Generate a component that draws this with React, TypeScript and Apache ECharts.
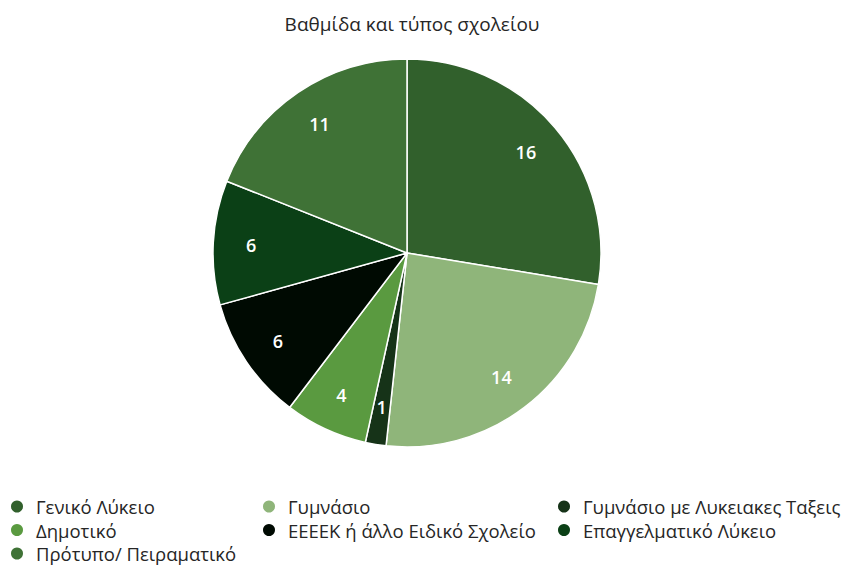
import React, { useEffect, useRef } from "react";
import * as echarts from "echarts";

const categories = [
  "Γενικό Λύκειο",
  "Γυμνάσιο",
  "Γυμνάσιο με Λυκειακες Ταξεις",
  "Δημοτικό",
  "ΕΕΕΕΚ ή άλλο Ειδικό Σχολείο",
  "Επαγγελματικό Λύκειο",
  "Πρότυπο/ Πειραματικό",
];
const values = [16, 14, 1, 4, 6, 6, 11];
const colors = ["#31602c", "#8fb57a", "#163318", "#5a9a40", "#000a02", "#0b4016", "#3f7236"];

const legendCols = [
  ["Γενικό Λύκειο", "Δημοτικό", "Πρότυπο/ Πειραματικό"],
  ["Γυμνάσιο", "ΕΕΕΕΚ ή άλλο Ειδικό Σχολείο"],
  ["Γυμνάσιο με Λυκειακες Ταξεις", "Επαγγελματικό Λύκειο"],
];
const legendX = [9, 261, 556];

export default function App() {
  const ref = useRef<HTMLDivElement>(null);
  useEffect(() => {
    document.body.style.margin = "0";
    const chart = echarts.init(ref.current!, null, { renderer: "svg" });
    const data = categories.map((n, i) => ({ name: n, value: values[i], itemStyle: { color: colors[i] } }));
    const font = "'Open Sans', 'Noto Sans', sans-serif";
    chart.setOption({
      animation: false,
      title: {
        text: "Βαθμίδα και τύπος σχολείου",
        left: 407,
        top: 9,
        textAlign: "center",
        textStyle: { fontFamily: font, fontSize: 19, fontWeight: "normal", color: "#262626" },
      },
      legend: legendCols.map((col, i) => ({
        data: col,
        orient: "vertical",
        left: legendX[i],
        top: 497,
        height: 68,
        padding: 0,
        icon: "circle",
        itemWidth: 14,
        itemHeight: 14,
        itemGap: 4.5,
        selectedMode: false,
        textStyle: { fontFamily: font, fontSize: 18.5, lineHeight: 18.5, color: "#262626", padding: [0, 0, 0, 7] },
      })),
      series: [
        {
          type: "pie",
          center: [407, 253],
          radius: [0, 194],
          startAngle: 90,
          clockwise: true,
          data,
          label: { show: false },
          labelLine: { show: false },
          itemStyle: { borderColor: "#ffffff", borderWidth: 1.5 },
          emphasis: { disabled: true },
          silent: true,
        },
        {
          type: "pie",
          center: [407, 253],
          radius: [112, 194],
          startAngle: 90,
          clockwise: true,
          data: categories.map((n, i) => ({ name: n, value: values[i] })),
          itemStyle: { color: "rgba(0,0,0,0)", borderWidth: 0 },
          label: {
            show: true,
            position: "inside",
            formatter: "{c}",
            color: "#ffffff",
            fontFamily: font,
            fontSize: 18,
            fontWeight: 600,
          },
          labelLine: { show: false },
          emphasis: { disabled: true },
          silent: true,
        },
      ],
    });
    return () => chart.dispose();
  }, []);
  return <div ref={ref} style={{ width: 852, height: 565 }} />;
}
